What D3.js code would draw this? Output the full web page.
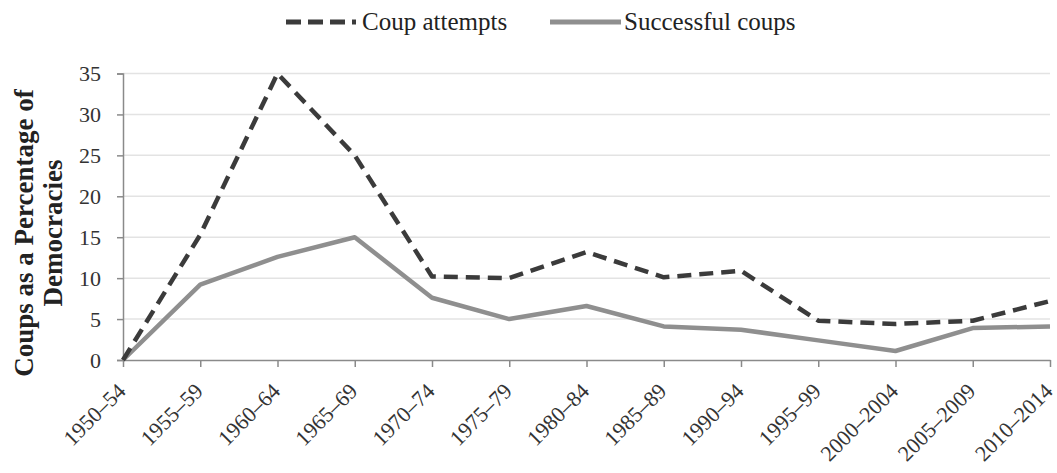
<!DOCTYPE html>
<html><head><meta charset="utf-8">
<script src="https://cdn.jsdelivr.net/npm/d3@7"></script>
<style>
body{margin:0;background:#fff;}
svg{display:block;}
text{font-family:"Liberation Serif","DejaVu Serif",serif;}
</style></head>
<body>
<svg id="chart" width="1057" height="473"></svg>
<script>
const categories = ["1950–54","1955–59","1960–64","1965–69","1970–74","1975–79","1980–84","1985–89","1990–94","1995–99","2000–2004","2005–2009","2010–2014"];
const coupAttempts = [0, 15.3, 35, 25, 10.2, 10, 13.2, 10.1, 10.9, 4.8, 4.4, 4.8, 7.2];
const successfulCoups = [0, 9.2, 12.6, 15, 7.6, 5.0, 6.6, 4.1, 3.7, 2.4, 1.1, 3.9, 4.1];
const yTicks = [0,5,10,15,20,25,30,35];
const seriesNames = ["Coup attempts","Successful coups"];
const yTitle = ["Coups as a Percentage of","Democracies"];

const svg = d3.select("#chart");
const margin = {left:123, right:1050, top:73.5, bottom:360};

const x = d3.scalePoint().domain(categories).range([margin.left, margin.right]);
const y = d3.scaleLinear().domain([0,35]).range([margin.bottom, margin.top]);

// gridlines
svg.append("g").selectAll("line").data(yTicks.filter(d=>d>0)).join("line")
  .attr("x1", margin.left).attr("x2", margin.right)
  .attr("y1", d=>y(d)).attr("y2", d=>y(d))
  .attr("stroke","#e3e3e3").attr("stroke-width",1.5);

// y axis
const yAxis = svg.append("g").attr("transform",`translate(${margin.left},0)`)
  .call(d3.axisLeft(y).tickValues(yTicks).tickSize(6).tickPadding(16));
yAxis.select(".domain").attr("stroke","#8a8a8a").attr("stroke-width",1.5);
yAxis.selectAll(".tick line").attr("stroke","#8a8a8a").attr("stroke-width",1.5);
yAxis.selectAll(".tick text").attr("font-size",22).attr("fill","#333")
  .style("font-family",'"Liberation Serif",serif');

// x axis
const xAxis = svg.append("g").attr("transform",`translate(0,${margin.bottom})`)
  .call(d3.axisBottom(x).tickSize(7).tickSizeOuter(0).tickPadding(4));
xAxis.select(".domain").attr("stroke","#8a8a8a").attr("stroke-width",1.5);
xAxis.selectAll(".tick line").attr("stroke","#8a8a8a").attr("stroke-width",1.5);
xAxis.selectAll(".tick text").attr("font-size",22).attr("fill","#333")
  .style("font-family",'"Liberation Serif",serif')
  .attr("text-anchor","end")
  .attr("transform","translate(-2,27) rotate(-45)")
  .attr("dy","0.35em").attr("y",0).attr("x",0);

// lines
const line = d3.line().x((d,i)=>x(categories[i])).y(d=>y(d));
svg.append("path").datum(successfulCoups).attr("d",line)
  .attr("fill","none").attr("stroke","#8f8f8f").attr("stroke-width",4.5)
  .attr("stroke-linejoin","round");
svg.append("path").datum(coupAttempts).attr("d",line)
  .attr("fill","none").attr("stroke","#3b3b3b").attr("stroke-width",4.5)
  .attr("stroke-dasharray","14,8").attr("stroke-linejoin","round");

// y title
const yt = svg.append("text").attr("transform","translate(33,233) rotate(-90)")
  .attr("text-anchor","middle").attr("font-weight","bold").attr("font-size",27).attr("fill","#222");
yt.append("tspan").attr("x",0).attr("dy",0).text(yTitle[0]);
yt.append("tspan").attr("x",0).attr("dy",29).text(yTitle[1]);

// legend
const leg = svg.append("g");
leg.append("line").attr("x1",286).attr("x2",356).attr("y1",22).attr("y2",22)
  .attr("stroke","#3b3b3b").attr("stroke-width",5).attr("stroke-dasharray","15,7");
leg.append("text").attr("x",362).attr("y",30).attr("font-size",25).attr("fill","#222").text(seriesNames[0]);
leg.append("line").attr("x1",550).attr("x2",621).attr("y1",22).attr("y2",22)
  .attr("stroke","#8f8f8f").attr("stroke-width",5);
leg.append("text").attr("x",624).attr("y",30).attr("font-size",25).attr("fill","#222").text(seriesNames[1]);
</script>
</body></html>
